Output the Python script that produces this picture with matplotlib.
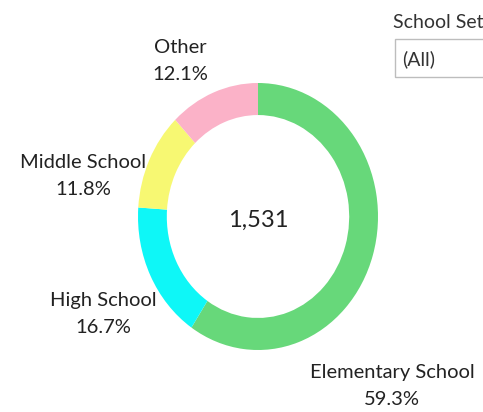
import matplotlib.pyplot as plt
from matplotlib.patches import Rectangle

# school types, clockwise from 12 o'clock
categories = ['Elementary School', 'High School', 'Middle School', 'Other']
shares = [59.3, 16.7, 11.8, 12.1]
colors = ['#67d87a', '#0ef7f7', '#f7f872', '#fbb2c8']
total = 1531

W, H = 483, 412
plt.rcParams['font.family'] = ['Lato', 'DejaVu Sans']

fig = plt.figure(figsize=(W / 100, H / 100), dpi=100)
fig.patch.set_facecolor('white')


def px(x, y):
    # pixel position (from top-left) -> figure fraction
    return x / W, 1 - y / H


# donut box in pixels: x 138..378, y 83..350
ax = fig.add_axes([138 / W, 1 - 350 / H, 240 / W, 267 / H])
ax.pie(shares, colors=colors, startangle=90, counterclock=False,
       radius=1, wedgeprops=dict(width=0.24, linewidth=0))
ax.set_aspect('auto')
ax.set_xlim(-1, 1)
ax.set_ylim(-1, 1)
ax.axis('off')

x, y = px(258, 220)
fig.text(x, y, f"{total:,}", ha='center', va='center', fontsize=17, color='#222222')

label_pos = {
    'Elementary School': (392, 386),
    'High School': (103, 314),
    'Middle School': (83, 176),
    'Other': (180, 61),
}
for cat, val in zip(categories, shares):
    x, y = px(*label_pos[cat])
    fig.text(x, y, f"{cat}\n{val:.1f}%", ha='center', va='center',
             fontsize=14.5, color='#222222', linespacing=1.75)

# filter control at the top right
x, y = px(393, 23)
fig.text(x, y, 'School Set', ha='left', va='center', fontsize=14, color='#333333')
bx, by = px(395, 77)
fig.patches.append(Rectangle((bx, by), 0.3, 38 / H, transform=fig.transFigure,
                             facecolor='white', edgecolor='#bdbdbd', linewidth=1))
x, y = px(402, 59)
fig.text(x, y, '(All)', ha='left', va='center', fontsize=14, color='#333333')

fig.savefig('out.png', dpi=100)
